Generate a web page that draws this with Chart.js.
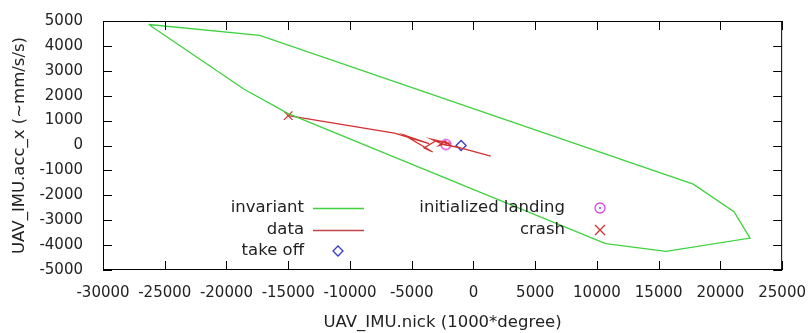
<!DOCTYPE html>
<html>
<head>
<meta charset="utf-8">
<script src="https://cdn.jsdelivr.net/npm/chart.js@4.4.0/dist/chart.umd.min.js"></script>
<style>
  html, body { margin: 0; padding: 0; background: #fff; }
  #wrap { width: 812px; height: 333px; }
</style>
</head>
<body>
<div id="wrap"><canvas id="chart"></canvas></div>
<script>
// invariant polygon (closed)
const invariantX = [-26300, -17300, 17800, 21100, 22400, 15600, 10700, -15000, -18600, -26300];
const invariantY = [4860, 4420, -1550, -2660, -3720, -4250, -3940, 1280, 2270, 4860];

// recorded trajectory
const dataX = [-15000, -6400, -3600, -5600, -3300, -4000, -3000, -2500, -3400, -2000, -2800, -2300, -1800, -2600, -1200, 1400];
const dataY = [1200, 500, 80, 420, -260, -100, 200, 50, 250, 100, 0, 180, -20, 60, -80, -430];

const takeOffX = [-1000], takeOffY = [0];
const landingX = [-2230], landingY = [40];
const crashX = [-15000], crashY = [1200];

const xTicks = [-30000, -25000, -20000, -15000, -10000, -5000, 0, 5000, 10000, 15000, 20000, 25000];
const yTicks = [-5000, -4000, -3000, -2000, -1000, 0, 1000, 2000, 3000, 4000, 5000];

const GREEN = "#3fd23f";
const RED = "#d43030";
const MAGENTA = "#dd44dd";
const BLUE = "#3a3ac8";
const FONT = "'DejaVu Sans', sans-serif";

function toPoints(xs, ys) {
  return xs.map((x, i) => ({ x, y: ys[i] }));
}

// circle with centre dot for "initialized landing"
function landingMarker() {
  const c = document.createElement("canvas");
  c.width = 14; c.height = 14;
  const g = c.getContext("2d");
  g.strokeStyle = MAGENTA;
  g.fillStyle = MAGENTA;
  g.lineWidth = 1.3;
  g.beginPath(); g.arc(7, 7, 5, 0, Math.PI * 2); g.stroke();
  g.beginPath(); g.arc(7, 7, 1, 0, Math.PI * 2); g.fill();
  return c;
}
const landingImg = landingMarker();

// gnuplot style frame with inward ticks on all four sides
const framePlugin = {
  id: "frame",
  afterDatasetsDraw(chart) {
    const { ctx, chartArea: a, scales } = chart;
    ctx.save();
    ctx.strokeStyle = "#000";
    ctx.lineWidth = 1;
    ctx.strokeRect(a.left + 0.5, a.top + 0.5, a.right - a.left - 1, a.bottom - a.top - 1);
    ctx.beginPath();
    const len = 9;
    xTicks.forEach((v) => {
      const px = Math.round(scales.x.getPixelForValue(v)) + 0.5;
      ctx.moveTo(px, a.bottom); ctx.lineTo(px, a.bottom - len);
      ctx.moveTo(px, a.top); ctx.lineTo(px, a.top + len);
    });
    yTicks.forEach((v) => {
      const py = Math.round(scales.y.getPixelForValue(v)) + 0.5;
      ctx.moveTo(a.left, py); ctx.lineTo(a.left + len, py);
      ctx.moveTo(a.right, py); ctx.lineTo(a.right - len, py);
    });
    ctx.stroke();
    ctx.restore();
  }
};

// two-column key like the original
const keyPlugin = {
  id: "key",
  afterDraw(chart) {
    const ctx = chart.ctx;
    ctx.save();
    ctx.font = "16.5px " + FONT;
    ctx.fillStyle = "#222";
    ctx.textAlign = "right";
    ctx.textBaseline = "middle";
    const rows = [208, 230, 251];
    ctx.fillText("invariant", 304, rows[0]);
    ctx.fillText("data", 304, rows[1]);
    ctx.fillText("take off", 304, rows[2]);
    ctx.fillText("initialized landing", 565, rows[0]);
    ctx.fillText("crash", 565, rows[1]);

    ctx.lineWidth = 1.3;
    ctx.strokeStyle = GREEN;
    ctx.beginPath(); ctx.moveTo(313, rows[0] + 0.5); ctx.lineTo(364, rows[0] + 0.5); ctx.stroke();
    ctx.strokeStyle = "#c04444";
    ctx.beginPath(); ctx.moveTo(313, rows[1] + 0.5); ctx.lineTo(364, rows[1] + 0.5); ctx.stroke();

    // diamond
    ctx.strokeStyle = BLUE;
    ctx.beginPath();
    ctx.moveTo(338, rows[2] - 5); ctx.lineTo(343, rows[2]);
    ctx.lineTo(338, rows[2] + 5); ctx.lineTo(333, rows[2]);
    ctx.closePath(); ctx.stroke();

    ctx.drawImage(landingImg, 600 - 7, rows[0] - 7);

    ctx.strokeStyle = RED;
    ctx.beginPath();
    ctx.moveTo(595, rows[1] - 5); ctx.lineTo(605, rows[1] + 5);
    ctx.moveTo(605, rows[1] - 5); ctx.lineTo(595, rows[1] + 5);
    ctx.stroke();
    ctx.restore();
  }
};

new Chart(document.getElementById("chart"), {
  type: "scatter",
  data: {
    datasets: [
      {
        label: "invariant",
        data: toPoints(invariantX, invariantY),
        showLine: true,
        borderColor: GREEN,
        borderWidth: 1.3,
        pointRadius: 0,
        tension: 0
      },
      {
        label: "data",
        data: toPoints(dataX, dataY),
        showLine: true,
        borderColor: RED,
        borderWidth: 1.3,
        pointRadius: 0,
        tension: 0
      },
      {
        label: "take off",
        data: toPoints(takeOffX, takeOffY),
        pointStyle: "rectRot",
        pointRadius: 5,
        borderColor: BLUE,
        backgroundColor: "rgba(0,0,0,0)",
        borderWidth: 1.3
      },
      {
        label: "initialized landing",
        data: toPoints(landingX, landingY),
        pointStyle: landingImg,
        pointRadius: 5
      },
      {
        label: "crash",
        data: toPoints(crashX, crashY),
        pointStyle: "crossRot",
        pointRadius: 6,
        borderColor: RED,
        borderWidth: 1.3
      }
    ]
  },
  options: {
    responsive: true,
    maintainAspectRatio: false,
    animation: false,
    layout: { padding: { top: 15, right: 21, left: 0, bottom: 0 } },
    plugins: {
      legend: { display: false },
      tooltip: { enabled: false }
    },
    scales: {
      x: {
        type: "linear",
        min: -30000,
        max: 25000,
        afterBuildTicks: (s) => { s.ticks = xTicks.map((v) => ({ value: v })); },
        afterFit: (s) => { s.height = 63; },
        grid: { display: false },
        border: { display: false },
        ticks: {
          color: "#222",
          font: { family: FONT, size: 15 },
          padding: 6,
          maxRotation: 0,
          autoSkip: false,
          callback: (v) => String(v)
        },
        title: {
          display: true,
          text: "UAV_IMU.nick (1000*degree)",
          color: "#222",
          font: { family: FONT, size: 16.5 },
          padding: { top: 2, bottom: 0 }
        }
      },
      y: {
        type: "linear",
        min: -5000,
        max: 5000,
        afterBuildTicks: (s) => { s.ticks = yTicks.map((v) => ({ value: v })); },
        afterFit: (s) => { s.width = 103; },
        grid: { display: false },
        border: { display: false },
        ticks: {
          color: "#222",
          font: { family: FONT, size: 15 },
          padding: 12,
          autoSkip: false,
          callback: (v) => String(v)
        },
        title: {
          display: true,
          text: "UAV_IMU.acc_x (~mm/s/s)",
          color: "#222",
          font: { family: FONT, size: 16.5 },
          padding: { top: 10, bottom: 0 }
        }
      }
    }
  },
  plugins: [framePlugin, keyPlugin]
});
</script>
</body>
</html>
